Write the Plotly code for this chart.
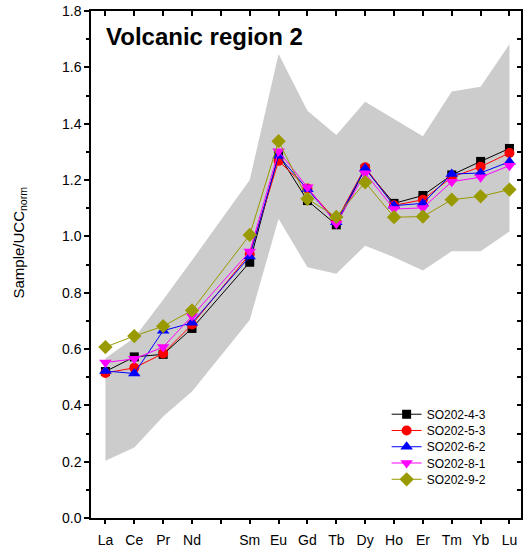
import plotly.graph_objects as go

# Elements (Pm is not analysed, but keeps its place on the axis)
axis_elements = ["La", "Ce", "Pr", "Nd", "Pm", "Sm", "Eu", "Gd", "Tb", "Dy", "Ho", "Er", "Tm", "Yb", "Lu"]
elements = ["La", "Ce", "Pr", "Nd", "Sm", "Eu", "Gd", "Tb", "Dy", "Ho", "Er", "Tm", "Yb", "Lu"]

band_upper = [0.567, 0.64, 0.775, 0.915, 1.20, 1.647, 1.446, 1.36, 1.478, 1.416, 1.355, 1.514, 1.531, 1.682]
band_lower = [0.203, 0.25, 0.36, 0.449, 0.703, 1.062, 0.89, 0.867, 0.967, 0.926, 0.879, 0.947, 0.947, 1.017]

so202_4_3 = [0.520, 0.572, 0.581, 0.673, 0.908, 1.290, 1.127, 1.041, 1.240, 1.117, 1.145, 1.218, 1.266, 1.312]
so202_5_3 = [0.515, 0.533, 0.584, 0.687, 0.937, 1.268, 1.170, 1.055, 1.245, 1.110, 1.130, 1.210, 1.247, 1.296]
so202_6_2 = [0.522, 0.513, 0.665, 0.693, 0.928, 1.286, 1.167, 1.050, 1.241, 1.109, 1.117, 1.221, 1.225, 1.265]
so202_8_1 = [0.552, 0.565, 0.607, 0.717, 0.946, 1.302, 1.174, 1.045, 1.224, 1.097, 1.101, 1.194, 1.210, 1.251]
so202_9_2 = [0.607, 0.646, 0.681, 0.737, 1.005, 1.338, 1.133, 1.069, 1.192, 1.068, 1.070, 1.130, 1.142, 1.166]

series_names = ["SO202-4-3", "SO202-5-3", "SO202-6-2", "SO202-8-1", "SO202-9-2"]
series_values = [so202_4_3, so202_5_3, so202_6_2, so202_8_1, so202_9_2]
series_colors = ["#000000", "#FF0000", "#0000FF", "#FF00FF", "#999900"]
series_symbols = ["square", "circle", "triangle-up", "triangle-down", "diamond"]
series_sizes = [9, 10, 11, 11, 11]

FONT = "Arial, Liberation Sans, sans-serif"

W, H = 526, 556
ML, MR, MT, MB = 91, 3, 10, 38
PW = W - ML - MR   # 432
PH = H - MT - MB   # 508

fig = go.Figure()

fig.add_trace(go.Scatter(
    x=elements + elements[::-1],
    y=band_upper + band_lower[::-1],
    fill="toself", fillcolor="#CCCCCC",
    line=dict(width=0, color="#CCCCCC"),
    mode="lines", hoverinfo="skip", showlegend=False,
))

legend_ids = ["legend", "legend2", "legend3", "legend4", "legend5"]
for name, vals, col, sym, sz, lg in zip(series_names, series_values, series_colors,
                                        series_symbols, series_sizes, legend_ids):
    fig.add_trace(go.Scatter(
        x=elements, y=vals, name=name, mode="lines+markers",
        line=dict(color=col, width=1),
        marker=dict(symbol=sym, size=sz, color=col),
        legend=lg,
    ))

# legend row centres (window pixels) -> paper coordinates
row_centers = [414, 430.3, 446.6, 462.9, 479.2]
legend_layout = {}
for lg, rc in zip(legend_ids, row_centers):
    legend_layout[lg] = dict(
        x=(388 - ML) / PW, xanchor="left",
        y=(518 - rc) / PH, yanchor="middle",
        bgcolor="rgba(0,0,0,0)", borderwidth=0,
        font=dict(family=FONT, size=12, color="black"),
    )

fig.update_layout(
    width=W, height=H,
    margin=dict(l=ML, r=MR, t=MT, b=MB),
    paper_bgcolor="white", plot_bgcolor="white",
    font=dict(family=FONT, size=14, color="black"),
    showlegend=True,
    **legend_layout,
    xaxis=dict(
        type="category", categoryorder="array", categoryarray=axis_elements,
        tickmode="array", tickvals=elements, ticktext=elements,
        range=[-0.5, 14.4],
        showline=True, linecolor="black", linewidth=1.5, mirror=True,
        ticks="", ticklabelstandoff=8,
        showgrid=False, zeroline=False,
        tickfont=dict(family=FONT, size=14),
    ),
    yaxis=dict(
        range=[0, 1.8], dtick=0.2, tick0=0, tickformat=".1f",
        showline=True, linecolor="black", linewidth=1.5, mirror=True,
        ticks="outside", ticklen=5, tickwidth=1.5, tickcolor="black",
        minor=dict(dtick=0.1, ticks="outside", ticklen=3, tickwidth=1.5, tickcolor="black", showgrid=False),
        showgrid=False, zeroline=False,
        tickfont=dict(family=FONT, size=14),
    ),
    xaxis2=dict(
        overlaying="x", side="top", range=[-0.5, 14.4],
        tickmode="linear", tick0=0, dtick=1,
        ticks="inside", ticklen=5, tickwidth=1.5, tickcolor="black",
        showticklabels=False, showgrid=False, zeroline=False, showline=False,
    ),
    xaxis3=dict(
        overlaying="x", side="bottom", range=[-0.5, 14.4],
        tickmode="linear", tick0=0, dtick=1,
        ticks="outside", ticklen=5, tickwidth=1.5, tickcolor="black",
        showticklabels=False, showgrid=False, zeroline=False, showline=False,
    ),
    yaxis2=dict(
        overlaying="y", side="right", range=[0, 1.8],
        tickmode="linear", tick0=0, dtick=0.1,
        ticks="inside", ticklen=4, tickwidth=1.5, tickcolor="black",
        showticklabels=False, showgrid=False, zeroline=False, showline=False,
    ),
    annotations=[
        dict(text="<b>Volcanic region 2</b>", xref="paper", yref="y",
             x=(104 - ML) / PW, y=1.71, xanchor="left", yanchor="middle",
             showarrow=False, font=dict(family=FONT, size=24, color="black")),
        dict(text="Sample/UCC<sub>norm</sub>", xref="paper", yref="paper",
             x=(19 - ML) / PW, y=0.544, xanchor="center", yanchor="middle",
             textangle=-90, showarrow=False,
             font=dict(family=FONT, size=15, color="black")),
    ],
)

# invisible helpers so the overlay tick axes get drawn
fig.add_trace(go.Scatter(x=[0], y=[0], xaxis="x2", yaxis="y2", mode="markers",
                         marker=dict(opacity=0), showlegend=False, hoverinfo="skip"))
fig.add_trace(go.Scatter(x=[0], y=[0], xaxis="x3", yaxis="y2", mode="markers",
                         marker=dict(opacity=0), showlegend=False, hoverinfo="skip"))

# remove the browser's default 8px body margin so the figure fills the window exactly
fig.write_html("out.html", config={"displayModeBar": False},
               post_script="document.body.style.margin='0px';")
